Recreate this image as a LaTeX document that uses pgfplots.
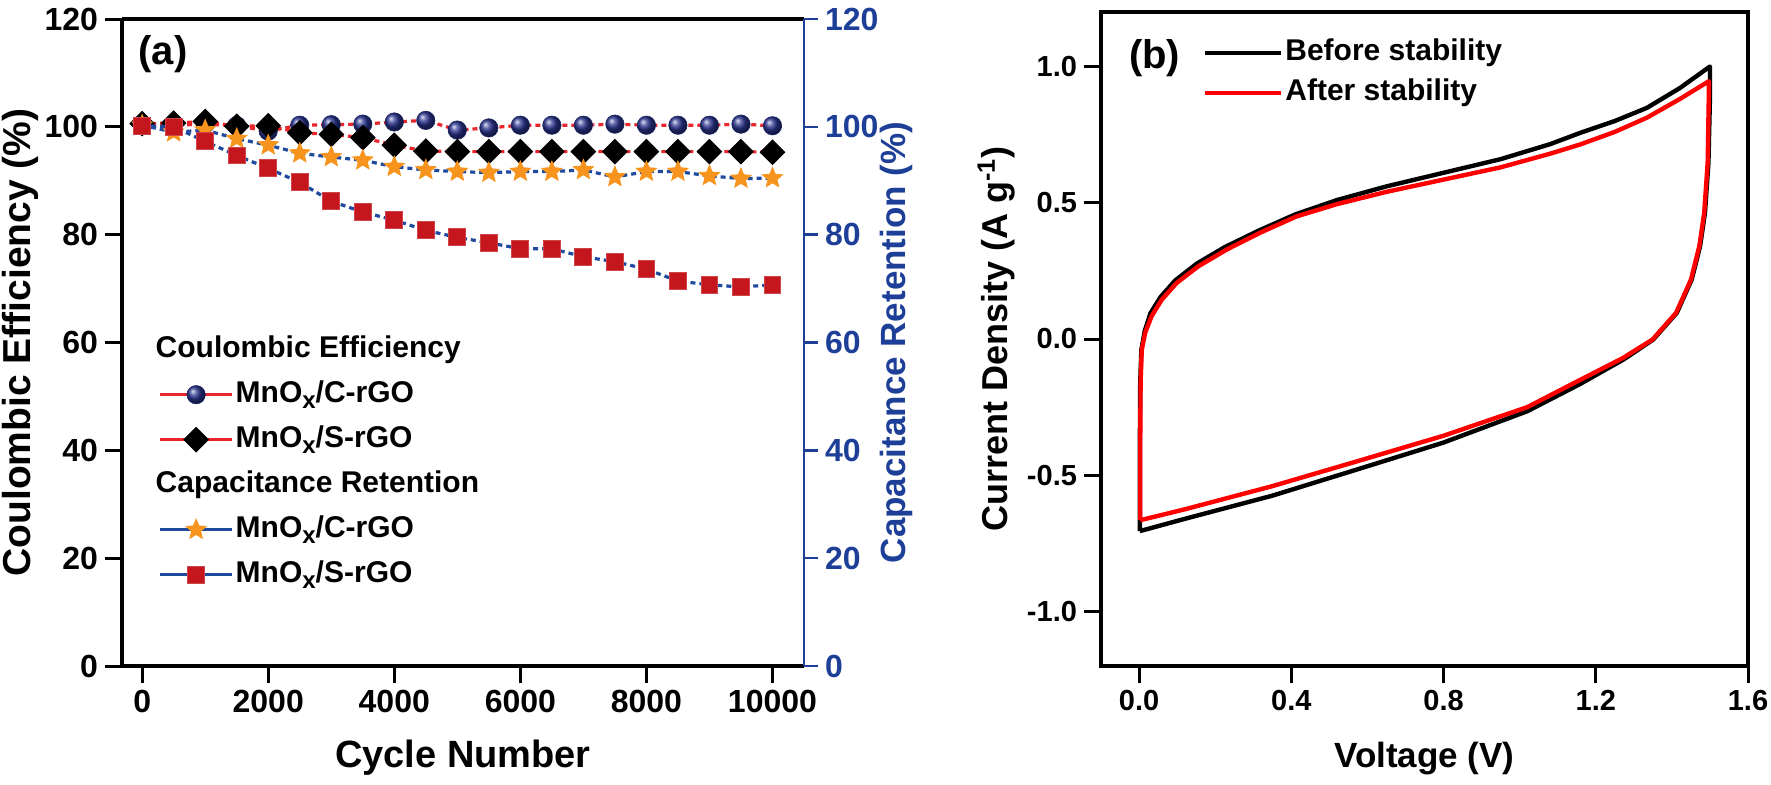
\documentclass[border=0pt]{standalone}
\usepackage{fontspec}
\setmainfont{Liberation Sans}
\usepackage{pgfplots}
\usepackage{pgfplotstable}
\pgfplotsset{compat=1.18}
\usetikzlibrary{plotmarks}

\definecolor{cered}{HTML}{E8262B}
\definecolor{crblue}{HTML}{1F4A9E}
\definecolor{navy}{HTML}{2A3590}
\definecolor{starorange}{HTML}{F7941D}
\definecolor{sqred}{HTML}{C4161C}
\definecolor{axblue}{HTML}{1D3F97}

\pgfdeclareplotmark{fstar}{%
 \pgfpathmoveto{\pgfqpointpolar{90}{\pgfplotmarksize}}%
 \pgfpathlineto{\pgfqpointpolar{126}{0.45\pgfplotmarksize}}%
 \pgfpathlineto{\pgfqpointpolar{162}{\pgfplotmarksize}}%
 \pgfpathlineto{\pgfqpointpolar{198}{0.45\pgfplotmarksize}}%
 \pgfpathlineto{\pgfqpointpolar{234}{\pgfplotmarksize}}%
 \pgfpathlineto{\pgfqpointpolar{270}{0.45\pgfplotmarksize}}%
 \pgfpathlineto{\pgfqpointpolar{306}{\pgfplotmarksize}}%
 \pgfpathlineto{\pgfqpointpolar{342}{0.45\pgfplotmarksize}}%
 \pgfpathlineto{\pgfqpointpolar{18}{\pgfplotmarksize}}%
 \pgfpathlineto{\pgfqpointpolar{54}{0.45\pgfplotmarksize}}%
 \pgfpathclose
 \pgfusepathqfillstroke
}

\newcommand\tickfont{\fontsize{14.5}{16}\selectfont\bfseries}
\newcommand\ltickfont{\fontsize{16}{18}\selectfont\bfseries}
\newcommand\labfont{\fontsize{17.5}{20}\selectfont\bfseries}
\newcommand\legfont{\fontsize{15}{18}\selectfont\bfseries}
\newcommand\sx{\raisebox{-0.4ex}{\fontsize{12}{12}\selectfont x}}

\pgfplotstableread{
x ceC ceS crC crS
0 100.3 100.6 100.3 100.2
500 100.3 100.7 99.0 100.0
1000 100.5 101.0 99.4 97.3
1500 100.2 100.1 97.8 94.7
2000 99.2 100.2 96.6 92.3
2500 100.3 98.9 95.1 89.7
3000 100.4 98.6 94.4 86.2
3500 100.5 98.0 93.8 84.2
4000 100.9 96.6 92.6 82.7
4500 101.2 95.5 92.0 80.8
5000 99.4 95.4 91.7 79.5
5500 99.8 95.4 91.5 78.5
6000 100.3 95.4 91.7 77.4
6500 100.3 95.4 91.7 77.4
7000 100.3 95.4 92.0 75.9
7500 100.5 95.4 90.7 75.0
8000 100.3 95.4 91.7 73.6
8500 100.3 95.4 91.7 71.4
9000 100.3 95.4 90.9 70.7
9500 100.5 95.4 90.4 70.3
10000 100.2 95.3 90.5 70.7
}\leftdata

\pgfplotsset{
  base/.style={
    scale only axis, anchor=south west, tick align=outside,
    major tick length=8.5pt,
    scaled ticks=false,
    tick label style={font=\tickfont},
    label style={font=\labfont},
    axis line style={line width=1.8pt},
    tick style={line width=1.5pt, black},
    clip=false,
  },
}

\begin{document}
\begin{tikzpicture}
\path[use as bounding box] (0,0) rectangle (885.5pt,392pt);

% ---------- panel (a), Coulombic efficiency (left axis)
\begin{axis}[base,
  at={(61pt,59pt)}, width=341pt, height=323.5pt,
  xmin=-320, xmax=10500, ymin=0, ymax=120,
  axis y line*=left,
  xtick pos=left, ytick pos=left,
  tick label style={font=\ltickfont},
  xtick={0,2000,4000,6000,8000,10000},
  xticklabels={0,2000,4000,6000,8000,10000},
  ytick={0,20,40,60,80,100,120},
  yticklabels={0,20,40,60,80,100,120},
  xlabel={Cycle Number},
  ylabel={Coulombic Efficiency (\%)},
  xlabel style={font=\fontsize{19}{22}\selectfont\bfseries, at={(axis description cs:0.5,-0.142)}, anchor=center},
  ylabel style={font=\fontsize{19.5}{22}\selectfont\bfseries, at={(axis description cs:-0.1496,0.5)}, anchor=center},
]
\addplot[cered, line width=1.6pt, dash pattern=on 2.5pt off 2pt,
  mark=ball, mark size=4.6pt, mark options={solid, ball color=navy, draw=navy!70!black, line width=0.3pt}]
  table[x=x, y=ceC]{\leftdata};
\addplot[cered, line width=1.6pt, dash pattern=on 2.5pt off 2pt,
  mark=square*, mark size=4.3pt,
  mark options={solid, rotate=45, fill=black, draw=black, line width=0.5pt}]
  table[x=x, y=ceS]{\leftdata};
\node[font=\fontsize{20}{24}\selectfont\bfseries] at (axis description cs:0.06,0.946) {(a)};
\end{axis}

% ---------- panel (a), capacitance retention (right axis)
\begin{axis}[base,
  at={(61pt,59pt)}, width=341pt, height=323.5pt,
  xmin=-320, xmax=10500, ymin=0, ymax=120,
  axis x line=none,
  axis y line*=right,
  ytick pos=right,
  tick label style={font=\ltickfont},
  ytick={0,20,40,60,80,100,120},
  yticklabels={0,20,40,60,80,100,120},
  y axis line style={axblue, line width=1.2pt},
  ytick style={axblue, line width=1.2pt},
  major tick length=7pt,
  yticklabel style={axblue},
  ylabel={Capacitance Retention (\%)},
  ylabel style={axblue, at={(axis description cs:1.135,0.5)}, anchor=center},
  legend style={at={(axis description cs:0.053,0.515)}, anchor=north west,
    draw=none, fill=none, font=\legfont, row sep=6pt, inner sep=0pt,
    nodes={inner sep=1pt, text height=11pt, text depth=3.5pt}},
  legend cell align=left,
  legend image code/.code={%
    \draw[mark repeat=2, mark phase=2, #1] plot coordinates {(0pt,0pt) (18pt,0pt) (36pt,0pt)};},
]
\addlegendimage{empty legend}
\addlegendentry{\hspace*{-40pt}Coulombic Efficiency}
\addlegendimage{cered, solid, line width=1.6pt, mark=ball, mark size=4.6pt,
  mark options={ball color=navy, draw=navy!70!black, line width=0.3pt}}
\addlegendentry{MnO\sx/C-rGO}
\addlegendimage{cered, solid, line width=1.6pt, mark=square*, mark size=4.3pt,
  mark options={rotate=45, fill=black, draw=black, line width=0.5pt}}
\addlegendentry{MnO\sx/S-rGO}
\addlegendimage{empty legend}
\addlegendentry{\hspace*{-40pt}Capacitance Retention}
\addlegendimage{crblue, solid, line width=1.6pt, mark=fstar, mark size=5.3pt,
  mark options={fill=starorange, draw=starorange, line width=0.4pt}}
\addlegendentry{MnO\sx/C-rGO}
\addlegendimage{crblue, solid, line width=1.6pt, mark=square*, mark size=4.2pt,
  mark options={fill=sqred, draw=sqred!80!white, line width=0.5pt}}
\addlegendentry{MnO\sx/S-rGO}

\addplot[forget plot, crblue, line width=1.6pt, dash pattern=on 2.5pt off 2pt,
  mark=fstar, mark size=5.3pt,
  mark options={solid, fill=starorange, draw=starorange, line width=0.4pt}]
  table[x=x, y=crC]{\leftdata};
\addplot[forget plot, crblue, line width=1.6pt, dash pattern=on 2.5pt off 2pt,
  mark=square*, mark size=4.2pt,
  mark options={solid, fill=sqred, draw=sqred!80!white, line width=0.5pt}]
  table[x=x, y=crS]{\leftdata};
\end{axis}

% ---------- panel (b)
\begin{axis}[base,
  at={(550.5pt,59pt)}, width=323.5pt, height=327pt,
  xmin=-0.1, xmax=1.6, ymin=-1.2, ymax=1.2,
  xtick pos=left, ytick pos=left,
  xtick={0,0.4,0.8,1.2,1.6},
  xticklabels={0.0,0.4,0.8,1.2,1.6},
  ytick={-1,-0.5,0,0.5,1},
  yticklabels={-1.0,-0.5,0.0,0.5,1.0},
  xlabel={Voltage (V)},
  ylabel={Current Density (A g\textsuperscript{-1})},
  xlabel style={at={(axis description cs:0.5,-0.142)}, anchor=center},
  ylabel style={font=\fontsize{18}{21}\selectfont\bfseries, at={(axis description cs:-0.162,0.5)}, anchor=center},
  legend style={at={(axis description cs:0.157,0.963)}, anchor=north west,
    draw=none, fill=none, font=\legfont, row sep=3.5pt, inner sep=0pt,
    nodes={inner sep=1pt, text height=11pt, text depth=3.5pt}},
  legend cell align=left,
  legend image code/.code={\draw[#1] (0pt,0pt) -- (38pt,0pt);},
]
\addplot[black, line width=2.2pt, line join=round] coordinates {
(0.002,-0.705) (0.002,-0.4) (0.003,-0.16) (0.006,-0.04) (0.015,0.03)
(0.03,0.095) (0.057,0.155) (0.095,0.215) (0.152,0.277) (0.225,0.337)
(0.313,0.397) (0.41,0.457) (0.52,0.51) (0.65,0.56) (0.8,0.61) (0.95,0.66)
(1.08,0.715) (1.16,0.757) (1.25,0.80) (1.334,0.848) (1.42,0.92) (1.5,1.0)
(1.5,0.89) (1.496,0.647) (1.487,0.464) (1.474,0.34) (1.452,0.218)
(1.413,0.096) (1.351,-0.002) (1.273,-0.075) (1.159,-0.165) (1.02,-0.265)
(0.8,-0.38) (0.57,-0.48) (0.35,-0.575) (0.12,-0.66) (0.002,-0.705)
};
\addlegendentry{Before stability}
\addplot[red, line width=2.2pt, line join=round] coordinates {
(0.003,-0.665) (0.003,-0.4) (0.004,-0.16) (0.007,-0.04) (0.016,0.023)
(0.033,0.084) (0.06,0.145) (0.099,0.206) (0.156,0.267) (0.23,0.328)
(0.318,0.39) (0.414,0.45) (0.52,0.495) (0.65,0.54) (0.8,0.585) (0.95,0.63)
(1.08,0.68) (1.159,0.714) (1.25,0.76) (1.334,0.812) (1.42,0.88) (1.497,0.946)
(1.497,0.89) (1.494,0.647) (1.485,0.464) (1.472,0.34) (1.45,0.218)
(1.411,0.096) (1.349,-0.002) (1.271,-0.07) (1.159,-0.15) (1.02,-0.25)
(0.8,-0.355) (0.57,-0.45) (0.35,-0.54) (0.12,-0.625) (0.003,-0.665)
};
\addlegendentry{After stability}
\node[font=\fontsize{20}{24}\selectfont\bfseries] at (axis description cs:0.083,0.93) {(b)};
\end{axis}
\end{tikzpicture}
\end{document}
